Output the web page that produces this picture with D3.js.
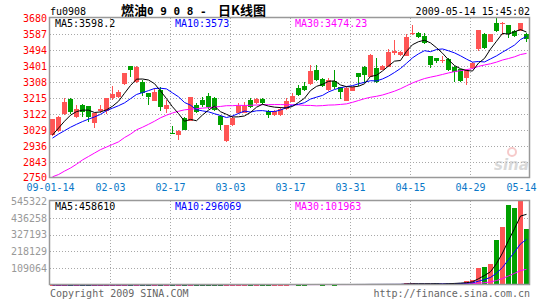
<!DOCTYPE html>
<html><head><meta charset="utf-8">
<script src="https://cdn.jsdelivr.net/npm/d3@7"></script>
<style>
html,body{margin:0;padding:0;background:#fff;}
svg{display:block;}
text{font-family:"DejaVu Sans Mono",monospace;font-size:10px;}
</style></head>
<body>
<svg id="c" width="545" height="300"></svg>
<script>
const priceTicks = [3680,3587,3494,3401,3308,3215,3122,3029,2936,2843,2750];
const volTicks = [545322,436258,327193,218129,109064];
const dateLabels = ["09-01-14","02-03","02-17","03-03","03-17","03-31","04-15","04-29","05-14"];

const opens = [3000,3025,3122,3209,3103,3174,3168,3068,3140,3141,
3213,3219,3296,3401,3310,3310,3242,3200,3262,3151,
3014,3000,3097,3083,3174,3203,3227,3213,3110,2967,
3058,3126,3130,3203,3184,3209,3139,3116,3116,3149,
3194,3271,3285,3296,3378,3325,3262,3316,3277,3200,
3258,3358,3397,3339,3387,3378,3397,3475,3465,3461,
3585,3595,3575,3459,3446,3430,3440,3397,3382,3329,
3387,3498,3585,3542,3649,3645,3639,3606,3606,3585];
const highs = [3095,3110,3213,3213,3174,3178,3170,3130,3174,3215,
3285,3262,3362,3403,3401,3320,3245,3271,3277,3203,
3052,3030,3103,3220,3184,3219,3242,3219,3116,3060,
3110,3188,3190,3213,3213,3213,3145,3145,3160,3213,
3242,3291,3310,3407,3407,3330,3333,3378,3280,3281,
3280,3360,3400,3470,3446,3405,3498,3552,3490,3587,
3639,3600,3591,3462,3450,3459,3445,3400,3385,3382,
3425,3612,3590,3587,3678,3659,3642,3608,3652,3595];
const lows = [2995,3020,3118,3122,3100,3103,3077,3039,3126,3122,
3205,3215,3290,3339,3305,3227,3174,3195,3141,3126,
3006,2971,3029,3080,3126,3161,3149,3140,3029,2960,
3050,3120,3125,3155,3180,3174,3097,3112,3112,3145,
3190,3228,3255,3290,3315,3277,3258,3270,3207,3195,
3255,3285,3304,3335,3300,3375,3394,3465,3460,3458,
3583,3565,3530,3387,3416,3416,3370,3310,3310,3291,
3385,3490,3500,3540,3600,3581,3562,3572,3604,3542];
const closes = [3093,3107,3194,3135,3151,3135,3107,3126,3151,3213,
3238,3252,3358,3378,3397,3242,3223,3252,3165,3174,
3006,3025,3029,3219,3135,3174,3165,3145,3058,3058,
3097,3170,3168,3161,3209,3184,3116,3139,3149,3198,
3227,3232,3262,3372,3320,3285,3320,3277,3252,3271,
3277,3339,3349,3465,3306,3401,3484,3490,3484,3571,
3595,3571,3533,3407,3430,3436,3378,3368,3314,3378,
3420,3610,3504,3585,3606,3649,3585,3575,3649,3556];

const ma5 = [3000,3040,3080,3115,3136,3144.4,3144.4,3130.8,3134,3146.4,
3167,3196,3242.4,3287.8,3324.6,3325.4,3319.6,3298.4,3255.8,3211.2,
3164,3124.4,3079.8,3090.6,3082.8,3116.4,3144.4,3167.6,3135.4,3120,
3104.6,3105.6,3110.6,3131.2,3161.4,3178.8,3168,3161.8,3159.4,3157.2,
3165.8,3189,3213.6,3258.2,3282.6,3294.2,3311.8,3314.8,3290.8,3281,
3279.4,3283.2,3297.6,3340.2,3347.2,3372,3401,3429.2,3433,3486,
3524.8,3542.2,3550.8,3535.4,3507.2,3475.4,3436.8,3403.8,3385.2,3374.8,
3371.6,3418,3445.2,3499.4,3545,3590.8,3585.8,3600,3612.8,3598.2];
const ma10 = [2982,3005,3025,3045,3062,3078,3092,3105,3120,3141.2,
3155.7,3170.2,3186.6,3210.9,3235.5,3246.2,3257.8,3270.4,3271.8,3267.9,
3244.7,3222,3189.1,3173.2,3147,3140.2,3134.4,3123.7,3113,3101.4,
3110.5,3125,3139.1,3133.3,3140.7,3141.7,3136.8,3136.2,3145.3,3159.3,
3172.3,3178.5,3187.7,3208.8,3219.9,3230,3250.4,3264.2,3274.5,3281.8,
3286.8,3297.5,3306.2,3315.5,3314.1,3325.7,3342.1,3363.4,3386.6,3416.6,
3448.4,3471.6,3490,3484.2,3496.6,3500.1,3489.5,3477.3,3460.3,3441,
3423.5,3427.4,3424.5,3442.3,3459.9,3481.2,3501.9,3522.6,3554.9,3573];
const ma30 = [2757,2770,2790,2808,2830,2855,2875,2895,2915,2930,
2945,2960,2985,3005,3030,3045,3062,3080,3100,3115,
3128,3138,3146,3150,3153,3156,3159,3162,3166,3170.2,
3170.3,3172.4,3171.6,3172.5,3174.4,3176.0,3176.3,3176.8,3176.7,3176.2,
3175.8,3175.2,3172.0,3171.8,3169.2,3170.6,3173.9,3174.7,3177.6,3180.8,
3189.9,3200.3,3211,3219.2,3224.9,3232.5,3243.1,3254.6,3268.8,3285.9,
3302.5,3315.9,3328.0,3336.2,3343.5,3351.9,3360.7,3368.3,3373.8,3379.8,
3386.2,3398.8,3406.9,3414,3423.5,3435.7,3444.5,3454.4,3467.7,3474.23];

const volumes = [1200,1500,1800,1300,1600,1400,1500,1700,1600,2000,
2200,1900,2500,2400,2600,2300,2100,2400,2600,2200,
2800,2500,2400,2900,2500,2300,2400,2600,2800,3000,
2700,2900,2800,2700,3000,2900,3100,2800,3000,3200,
3300,3100,3000,3600,3400,3200,3300,3100,3400,3500,
3300,3600,3800,4200,4000,3700,4100,4300,3900,15000,
13000,5000,5000,5000,14000,4000,14000,14000,14000,28000,
35000,112000,119000,136000,292000,379000,519000,502000,545322,363500];
const vma5 = [1400,1450,1500,1500,1480,1520,1520,1500,1560,1680,
1800,1880,2040,2120,2320,2340,2380,2360,2400,2320,
2420,2500,2460,2540,2620,2520,2500,2540,2520,2620,
2760,2880,2840,2820,2820,2860,2900,2900,2960,3000,
3080,3080,3120,3240,3280,3260,3300,3320,3280,3300,
3300,3380,3520,3780,3780,3860,3960,4060,4040,6200,
8060,8240,8380,8600,8400,6600,8400,10200,12000,14800,
21000,40600,61600,86000,138800,207600,289000,365600,447464,458610];
const vma10 = [1300,1320,1360,1380,1400,1420,1450,1480,1500,1560,
1660,1700,1770,1880,1980,2070,2130,2200,2300,2360,
2420,2480,2480,2530,2520,2520,2550,2570,2590,2670,
2660,2700,2740,2740,2790,2850,2920,2940,2960,2980,
3040,3060,3080,3140,3180,3190,3210,3240,3280,3310,
3310,3360,3440,3500,3560,3610,3690,3810,3860,5010,
5960,6100,6220,6300,7300,7330,8320,9290,10300,11600,
13800,24500,35900,49000,76800,114300,164800,213600,266732,296069];
const vma30 = [1100,1120,1150,1180,1200,1230,1260,1290,1320,1350,
1380,1410,1450,1490,1530,1570,1610,1650,1700,1740,
1790,1830,1870,1910,1950,1990,2030,2070,2110,2150,
2200,2250,2290,2330,2370,2420,2460,2500,2540,2580,
2620,2650,2690,2730,2770,2800,2830,2870,2900,2930,
2960,2990,3020,3060,3100,3140,3180,3220,3260,3730,
4073,4143,4217,4293,4660,4697,5060,5433,5800,6627,
7683,11313,15180,19593,29213,41740,58930,75560,93624,101963];

const RED = "#ff5555", GREEN = "#00a000", GRID = "#a8a8a8", FRAME = "#999";
const svg = d3.select("#c");
const n = closes.length;
const L = 50, R = 530;
const x = d3.scaleLinear().domain([0, n]).range([L, R]);
const y = d3.scaleLinear().domain([2750, 3680]).range([178, 18]);
const yv = d3.scaleLinear().domain([0, 545322]).range([285, 201]);
const isUp = i => closes[i] >= opens[i];

// grids
function hGrid(vals, sc) {
  svg.append("g").selectAll("line").data(vals).join("line")
    .attr("x1", L).attr("x2", R)
    .attr("y1", d => Math.round(sc(d)) + 0.5).attr("y2", d => Math.round(sc(d)) + 0.5)
    .attr("stroke", GRID).attr("stroke-dasharray", "1,2");
}
function vGrid(top, bot) {
  svg.append("g").selectAll("line").data(d3.range(10, n, 10)).join("line")
    .attr("x1", d => x(d) + 0.5).attr("x2", d => x(d) + 0.5)
    .attr("y1", top).attr("y2", bot)
    .attr("stroke", GRID).attr("stroke-dasharray", "1,2");
}
hGrid(priceTicks.slice(1, -1), y);
vGrid(18, 178);
hGrid(volTicks.slice(1), yv);
vGrid(201, 285);

// watermark
const wm = svg.append("g").attr("opacity", 0.55);
wm.append("circle").attr("cx", 512).attr("cy", 152).attr("r", 4).attr("fill", "none").attr("stroke", "#f0a0a0").attr("stroke-width", 2);
wm.append("text").attr("x", 494).attr("y", 170).attr("fill", "#bbb")
  .style("font-family", "DejaVu Sans").style("font-size", "15px").style("font-weight", "bold").style("font-style", "italic").text("sina");

// candles
const cg = svg.append("g");
cg.selectAll("line").data(d3.range(n)).join("line")
  .attr("x1", i => x(i) + 2.5).attr("x2", i => x(i) + 2.5)
  .attr("y1", i => Math.round(y(highs[i]))).attr("y2", i => Math.round(y(lows[i])))
  .attr("stroke", i => isUp(i) ? RED : GREEN);
cg.selectAll("rect").data(d3.range(n)).join("rect")
  .attr("x", i => x(i)).attr("width", 5)
  .attr("y", i => Math.round(y(Math.max(opens[i], closes[i]))))
  .attr("height", i => Math.max(1, Math.round(y(Math.min(opens[i], closes[i]))) - Math.round(y(Math.max(opens[i], closes[i])))))
  .attr("fill", i => isUp(i) ? RED : GREEN);

// price MA lines
function maLine(arr, sc, color) {
  svg.append("path").datum(arr)
    .attr("d", d3.line().x((d, i) => x(i) + 2.5).y(d => sc(d)))
    .attr("fill", "none").attr("stroke", color).attr("stroke-width", 1);
}
maLine(ma30, y, "#ff00ff");
maLine(ma10, y, "#0000ff");
maLine(ma5, y, "#000");

// volume bars
svg.append("g").selectAll("rect").data(d3.range(n)).join("rect")
  .attr("x", i => x(i)).attr("width", 5)
  .attr("y", i => Math.round(yv(volumes[i])))
  .attr("height", i => Math.max(1, 285 - Math.round(yv(volumes[i]))))
  .attr("fill", i => isUp(i) ? RED : GREEN);
maLine(vma30, yv, "#ff00ff");
maLine(vma10, yv, "#0000ff");
maLine(vma5, yv, "#000");

// frames
svg.append("rect").attr("x", 49.5).attr("y", 17.5).attr("width", 480).attr("height", 160)
  .attr("fill", "none").attr("stroke", FRAME).attr("stroke-width", 1.5);
svg.append("rect").attr("x", 49.5).attr("y", 200.5).attr("width", 480).attr("height", 84)
  .attr("fill", "none").attr("stroke", FRAME).attr("stroke-width", 1.5);

// axes
const ay = svg.append("g").attr("transform", "translate(50,0)")
  .call(d3.axisLeft(y).tickValues(priceTicks).tickSize(0).tickPadding(3).tickFormat(d3.format("d")));
ay.select(".domain").remove();
ay.selectAll("text").attr("fill", "#ff0000").style("font-family", "DejaVu Sans Mono").style("font-size", "10px");
ay.selectAll("text").filter(d => d === 2750).attr("dy", "0.2em");

const av = svg.append("g").attr("transform", "translate(50,0)")
  .call(d3.axisLeft(yv).tickValues(volTicks).tickSize(0).tickPadding(3).tickFormat(d3.format("d")));
av.select(".domain").remove();
av.selectAll("text").attr("fill", "#999").style("font-family", "DejaVu Sans Mono").style("font-size", "10px");

const ax = svg.append("g").attr("transform", "translate(0,181)")
  .call(d3.axisBottom(x).tickValues(d3.range(0, n + 1, 10)).tickSize(0).tickPadding(3)
    .tickFormat((d, i) => dateLabels[i]));
ax.select(".domain").remove();
ax.selectAll("text").attr("fill", "#0a78c8").style("font-family", "DejaVu Sans Mono").style("font-size", "10px");
ax.selectAll("text").filter((d, i) => i === dateLabels.length - 1).attr("dx", -9);

// header texts
svg.append("text").attr("x", 50).attr("y", 15).attr("fill", "#000").text("fu0908");
const t = svg.append("text").attr("y", 15).attr("fill", "#000").style("font-weight", "bold");
t.append("tspan").attr("x", 121).style("font-family", "Noto Sans CJK SC").style("font-size", "13px").text("燃油");
t.append("tspan").attr("x", 147).style("font-family", "DejaVu Sans Mono").style("font-size", "11px").style("font-weight", "bold").text("0 9 0 8  -");
t.append("tspan").attr("x", 218).style("font-family", "Noto Sans CJK SC").style("font-size", "13px").text("日K线图");
svg.append("text").attr("x", 530).attr("y", 15).attr("text-anchor", "end").attr("fill", "#000").text("2009-05-14 15:45:02");

// MA legends
const fmtLast = (a) => a[a.length - 1];
svg.append("text").attr("x", 55).attr("y", 27).attr("fill", "#000").text("MA5:" + fmtLast(ma5));
svg.append("text").attr("x", 175).attr("y", 27).attr("fill", "#0000ff").text("MA10:" + fmtLast(ma10));
svg.append("text").attr("x", 295).attr("y", 27).attr("fill", "#ff00ff").text("MA30:" + fmtLast(ma30));
svg.append("text").attr("x", 55).attr("y", 210).attr("fill", "#000").text("MA5:" + fmtLast(vma5));
svg.append("text").attr("x", 175).attr("y", 210).attr("fill", "#0000ff").text("MA10:" + fmtLast(vma10));
svg.append("text").attr("x", 295).attr("y", 210).attr("fill", "#ff00ff").text("MA30:" + fmtLast(vma30));

// footer
svg.append("text").attr("x", 50).attr("y", 297).attr("fill", "#666").text("Copyright 2009 SINA.COM");
svg.append("text").attr("x", 530).attr("y", 297).attr("text-anchor", "end").attr("fill", "#666").text("http://finance.sina.com.cn");
</script>
</body></html>
